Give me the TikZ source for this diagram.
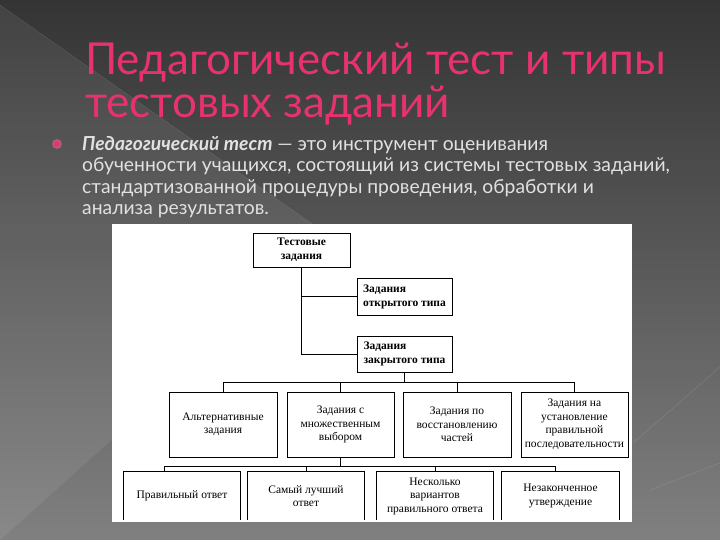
\documentclass[tikz,border=0pt]{standalone}
\usepackage{fontspec}
\setmainfont{Liberation Serif}
\newfontfamily\slidefont{Lato}
\usepackage{xcolor}
\usepackage{tikz}
\usetikzlibrary{
	calc,
	positioning
}
\definecolor{TitlePink}{RGB}{232,50,110}
\definecolor{BodyGray}{RGB}{225,225,225}
\definecolor{BgTop}{RGB}{52,52,52}
\definecolor{BgBottom}{RGB}{128,128,128}

\tikzset{
	chartbox/.style={draw, line width=0.8pt, align=center, inner sep=0pt,
		font=\fontsize{11.5}{13.5}\selectfont},
	headbox/.style={chartbox, align=left, font=\bfseries\fontsize{11.5}{14}\selectfont},
	openbox/.style={chartbox, draw=none},
	link/.style={line width=0.9pt},
	titletext/.style={align=left, inner sep=0pt, text=TitlePink, font=\slidefont\fontsize{44}{43}\selectfont},
	bodytext/.style={align=left, inner sep=0pt, text=BodyGray, font=\slidefont\fontsize{19.3}{21.5}\selectfont}
}

\begin{document}
\begin{tikzpicture}[x=1pt, y=-1pt]
				% background
				\useasboundingbox (0,0) rectangle (720,540);
				\shade[top color=BgTop, bottom color=BgBottom] (0,0) rectangle (720,540);
				\fill[white, opacity=0.07] (0,5) -- (335,240) -- (0,540) -- cycle;
				\draw[white, opacity=0.12] (0,5) -- (335,240);
				\draw[white, opacity=0.15] (633,443) -- (720,367);
				\draw[white, opacity=0.15] (650,490) -- (720,463);
				% title and text
				\node[titletext, anchor=north west] (title) at (85,43) {Педагогический тест и типы\\тестовых заданий};
				\fill[TitlePink!55!gray] (57,144) circle (5);
				\fill[TitlePink] (57,144) circle (2.5);
				\node[bodytext, anchor=north west] (def) at (82,136) {\textbf{\textit{Педагогический тест}} — это инструмент оценивания\\обученности учащихся, состоящий из системы тестовых заданий,\\стандартизованной процедуры проведения, обработки и\\анализа результатов.};
				% chart
				\fill[white] (112,224) rectangle (632,522);
				\node[headbox, align=center, minimum width=97, minimum height=34] (tasks) at (301.5,250) {Тестовые\\задания};
				\node[headbox, minimum width=95, minimum height=37] (open) at (404.5,296.5) {Задания\\открытого типа};
				\node[headbox, minimum width=95, minimum height=36] (closed) at (404.5,354) {Задания\\закрытого типа};
				\node[chartbox, minimum width=108, minimum height=65] (alt) at (223,424.5) {Альтернативные\\задания};
				\node[chartbox, minimum width=107, minimum height=65] (multi) at (340.5,424.5) {Задания с\\множественным\\выбором};
				\node[chartbox, minimum width=108, minimum height=65] (restore) at (457,424.5) {Задания по\\восстановлению\\частей};
				\node[chartbox, minimum width=107, minimum height=65] (order) at (574.4,424.5) {Задания на\\установление\\правильной\\последовательности};
				\node[openbox, minimum width=116, minimum height=48] (right) at (182,496) {Правильный ответ};
				\node[openbox, minimum width=116, minimum height=48] (best) at (306,496) {Самый лучший\\ответ};
				\node[openbox, minimum width=116, minimum height=48] (several) at (435,496) {Несколько\\вариантов\\правильного ответа};
				\node[openbox, minimum width=117, minimum height=48] (unfinished) at (560.5,496) {Незаконченное\\утверждение};
				\foreach \n in {right, best, several, unfinished}
					\draw[link] (\n.south west) -- (\n.north west) -- (\n.north east) -- (\n.south east);
				% connectors
				\coordinate (trunk) at (301.5,354);
				\draw[link] (tasks.south) -- (trunk) -- (closed.west);
				\draw[link] (tasks.south |- open.west) -- (open.west);
				\coordinate (busA) at (0,382);
				\draw[link] (closed.south) -- (closed.south |- busA);
				\draw[link] (alt.north) -- (alt.north |- busA) -- (order.north |- busA) -- (order.north);
				\draw[link] (multi.north) -- (multi.north |- busA);
				\draw[link] (restore.north) -- (restore.north |- busA);
				\coordinate (busB) at (164,466);
				\coordinate (busC) at (555,466);
				\draw[link] (multi.south) -- (multi.south |- busB);
				\draw[link] (busB |- right.north) -- (busB) -- (busC) -- (busC |- unfinished.north);
				\draw[link] (best.north) -- (best.north |- busB);
				\draw[link] (several.north) -- (several.north |- busB);
			\end{tikzpicture}
\end{document}
